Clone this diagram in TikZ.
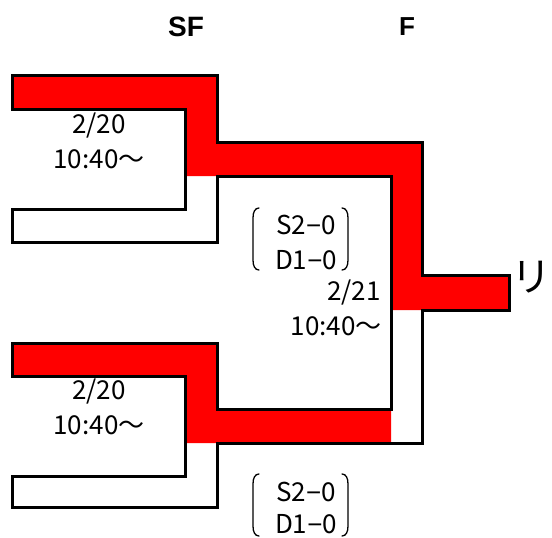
\documentclass[tikz,border=0pt]{standalone}
\usepackage{fontspec}
\newfontfamily\jpfont{Noto Sans CJK JP}
\newfontfamily\hdfont{Liberation Sans}
\definecolor{winred}{RGB}{255,0,0}
\newcommand{\mn}{{\hdfont −}}
\begin{document}
\begin{tikzpicture}[scale=1, font=\jpfont\fontsize{26}{30}\selectfont, line join=miter, line cap=rect, x=1pt, y=-1pt]
\def \xl{12};
\def \xi{185};
\def \xo{217};
\def \xfi{391};
\def \xfo{422};
\def \xw{509};
\useasboundingbox (0,0) rectangle (552,538);
% winners' path
\fill[winred] (\xl,75) -- (\xo,75) -- (\xo,142) -- (\xfo,142) -- (\xfo,275) -- (\xw,275) -- (\xw,310) -- (\xfi,310) -- (\xfi,176) -- (\xi,176) -- (\xi,109) -- (\xl,109) -- cycle;
\fill[winred] (\xl,343) -- (\xo,343) -- (\xo,409) -- (\xfi,409) -- (\xfi,443) -- (\xi,443) -- (\xi,376) -- (\xl,376) -- cycle;
% bracket lines
\begin{scope}[line width=3pt]
\draw (\xl,75) -- (\xo,75) -- (\xo,142) -- (\xfo,142) -- (\xfo,275) -- (\xw,275) -- (\xw,310) -- (\xfo,310) -- (\xfo,443) -- (\xo,443) -- (\xo,507) -- (\xl,507);
\draw (\xl,242) -- (\xo,242) -- (\xo,176) -- (\xfi,176) -- (\xfi,409) -- (\xo,409) -- (\xo,343) -- (\xl,343);
\draw (\xl,109) -- (\xi,109) -- (\xi,209) -- (\xl,209);
\draw (\xl,376) -- (\xi,376) -- (\xi,476) -- (\xl,476);
\foreach \a/\b in {75/109,209/242,343/376,476/507}{\draw (\xl,\a) -- (\xl,\b);}
\end{scope}
% round brackets round the scores
\foreach \dy in {0,266}{
\draw[line width=1.3pt, line cap=round] (259,208+\dy) .. controls (255,208+\dy) and (253,212+\dy) .. (253,218+\dy) -- (253,260+\dy) .. controls (253,266+\dy) and (255,270+\dy) .. (259,270+\dy);
\draw[line width=1.3pt, line cap=round] (342,208+\dy) .. controls (346,208+\dy) and (348,212+\dy) .. (348,218+\dy) -- (348,260+\dy) .. controls (348,266+\dy) and (346,270+\dy) .. (342,270+\dy);
}
% round titles
\node[font=\hdfont\bfseries\fontsize{28}{30}\selectfont] (sf) at (186,27) {SF};
\node[font=\hdfont\bfseries\fontsize{26}{30}\selectfont] (f) at (407,27) {F};
% dates and scores
\foreach \x/\y/\l/\n in {99/126/{2/20}/da, 99/159/10:40～/ta, 99/392/{2/20}/db, 99/425/10:40～/tb, 306/225/S2\mn0/sa, 306/260/D1\mn0/ra, 306/492/S2\mn0/sb, 306/524/D1\mn0/rb}{\node[inner sep=0pt] (\n) at (\x,\y) {\l};}
\node[anchor=east, inner sep=0pt] (dc) at (381,293) {2/21};
\node[anchor=east, inner sep=0pt] (tc) at (382,326) {10:40～};
\node[inner sep=0pt, font=\jpfont\fontsize{40}{40}\selectfont] (win) at (531,277) {リ};
\end{tikzpicture}
\end{document}
